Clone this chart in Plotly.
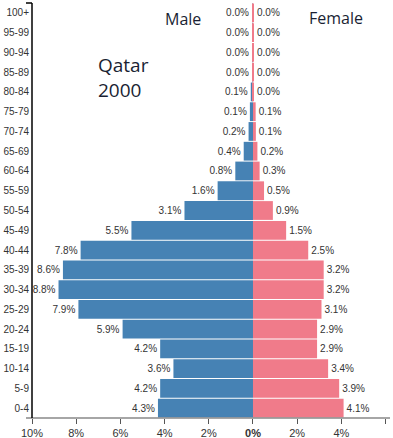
import plotly.graph_objects as go

age_groups = ["100+", "95-99", "90-94", "85-89", "80-84", "75-79", "70-74", "65-69",
              "60-64", "55-59", "50-54", "45-49", "40-44", "35-39", "30-34", "25-29",
              "20-24", "15-19", "10-14", "5-9", "0-4"]
male = [0.01, 0.01, 0.02, 0.03, 0.1, 0.14, 0.2, 0.42, 0.8, 1.6, 3.1, 5.5, 7.8, 8.6, 8.8, 7.9,
        5.9, 4.2, 3.6, 4.2, 4.3]
female = [0.005, 0.005, 0.01, 0.02, 0.04, 0.12, 0.13, 0.2, 0.3, 0.5, 0.9, 1.5, 2.5, 3.2, 3.2, 3.1,
          2.9, 2.9, 3.4, 3.9, 4.1]
x_ticks = [-10, -8, -6, -4, -2, 0, 2, 4, 6]
x_tick_labels = ["10%", "8%", "6%", "4%", "2%", "<b>0%</b>", "2%", "4%", "6%"]

BLUE = "#4682b4"
PINK = "#f07b8a"
TXT = "#333333"
FONT = "Liberation Sans, Arial, sans-serif"
TFONT = "Open Sans, sans-serif"

fig = go.Figure()
fig.add_trace(go.Bar(
    y=age_groups, x=[-v for v in male], orientation="h",
    marker=dict(color=BLUE, line=dict(width=0)),
    text=[f"{v:.1f}%" for v in male], textposition="outside",
    textfont=dict(size=10, color=TXT, family=FONT), cliponaxis=False,
    name="Male", hoverinfo="skip",
))
fig.add_trace(go.Bar(
    y=age_groups, x=female, orientation="h",
    marker=dict(color=PINK, line=dict(width=0)),
    text=[f"{v:.1f}%" for v in female], textposition="outside",
    textfont=dict(size=10, color=TXT, family=FONT), cliponaxis=False,
    name="Female", hoverinfo="skip",
))

W, H = 393, 438
L, R, T, B = 32, 3, 3, 20
pw = W - L - R

fig.update_layout(
    width=W, height=H,
    margin=dict(l=L, r=R, t=T, b=B, autoexpand=False),
    barmode="overlay", bargap=0.05,
    showlegend=False,
    plot_bgcolor="white", paper_bgcolor="white",
    font=dict(family=FONT, color=TXT, size=11),
    xaxis=dict(range=[-10, 6.2], tickvals=x_ticks, ticktext=x_tick_labels,
               showgrid=False, zeroline=False, showline=False, automargin=False,
               ticks="outside", ticklen=5, tickcolor="#555", tickwidth=1,
               tickfont=dict(size=11, color=TXT), fixedrange=True),
    yaxis=dict(categoryorder="array", categoryarray=age_groups[::-1],
               range=[-0.5, 20.5], showgrid=False, zeroline=False, showline=False,
               ticks="", ticklabelstandoff=2, automargin=False, fixedrange=True,
               tickfont=dict(size=10, color=TXT)),
    shapes=[
        dict(type="line", xref="paper", yref="paper", x0=-6 / pw, x1=1.0, y0=0, y1=0,
             line=dict(color="#888888", width=1.5)),
        dict(type="line", xref="paper", yref="paper", x0=0, x1=0, y0=0, y1=1,
             line=dict(color="black", width=1.5)),
        dict(type="line", xref="paper", yref="paper", x0=-6 / pw, x1=0, y0=1, y1=1,
             line=dict(color="black", width=1.5)),
    ],
    annotations=[
        dict(text="Male", xref="paper", yref="paper", x=0.422, y=0.961,
             xanchor="center", yanchor="middle",
             showarrow=False, font=dict(size=16, color="#1a1f33", family=TFONT)),
        dict(text="Female", xref="paper", yref="paper", x=0.849, y=0.964,
             xanchor="center", yanchor="middle",
             showarrow=False, font=dict(size=16, color="#1a1f33", family=TFONT)),
        dict(text="Qatar", xref="paper", yref="paper", x=0.18, y=0.85,
             xanchor="left", yanchor="middle",
             showarrow=False, font=dict(size=19, color="#1a1f33", family=TFONT)),
        dict(text="2000", xref="paper", yref="paper", x=0.18, y=0.79,
             xanchor="left", yanchor="middle",
             showarrow=False, font=dict(size=19, color="#1a1f33", family=TFONT)),
    ],
)

fig.write_html("out.html", config={"displayModeBar": False},
               post_script="document.body.style.margin='0';document.body.style.overflow='hidden';")
